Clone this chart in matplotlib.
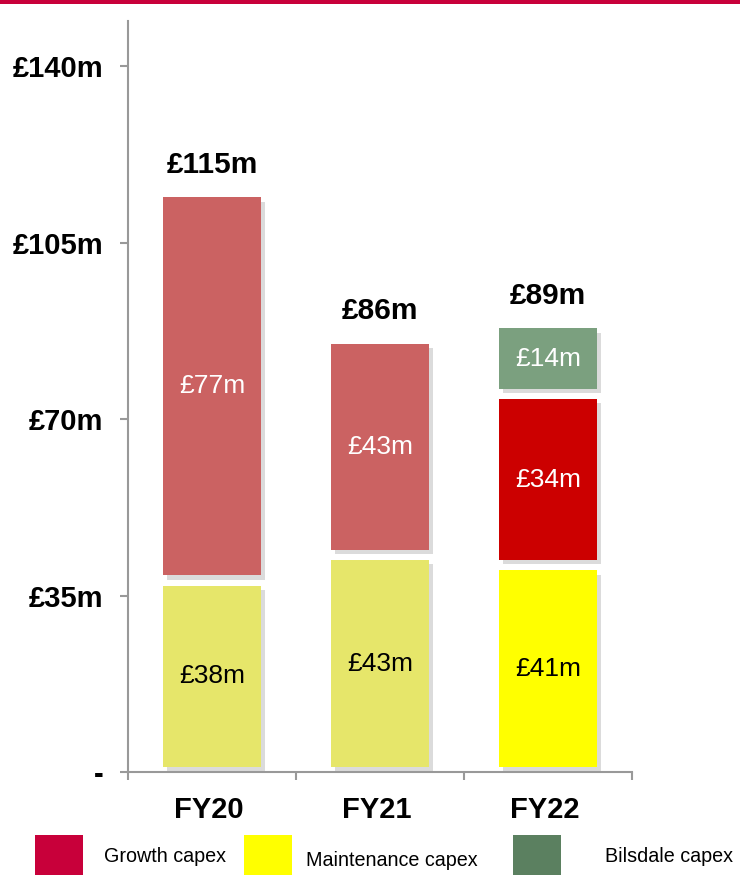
import numpy as np
import matplotlib
matplotlib.use("Agg")
import matplotlib.pyplot as plt
import matplotlib.patheffects as pe
from matplotlib.patches import Rectangle

plt.rcParams["font.family"] = ["Liberation Sans", "DejaVu Sans"]

# -------------------- Data --------------------
years = ["FY20", "FY21", "FY22"]
maintenance = [38, 43, 41]
growth = [77, 43, 34]
bilsdale = [0, 0, 14]
totals = [115, 86, 89]

maint_colors = ["#E6E66A", "#E6E66A", "#FFFF00"]
growth_colors = ["#CB6262", "#CB6262", "#CC0000"]
bils_color = "#7BA07F"

ytick_vals = [0, 35, 70, 105, 140]
ytick_labels = ["-", "£35m", "£70m", "£105m", "£140m"]

# -------------------- Figure --------------------
fig = plt.figure(figsize=(7.4, 8.75), dpi=100)
ax = fig.add_axes([0.173, 0.1177, 0.681, 0.8583])

x = np.arange(len(years))
width = 0.58
gap = 1.0
shadow = [pe.SimplePatchShadow(offset=(3, -3), shadow_rgbFace="#999999", alpha=0.35), pe.Normal()]

def seg(bottom, h, colors):
    bars = ax.bar(x, [max(v - 2 * gap, 0) for v in h],
                  bottom=[b + gap for b in bottom],
                  width=width, color=colors, linewidth=0)
    for b, v in zip(bars, h):
        if v == 0:
            b.set_visible(False)
        b.set_path_effects(shadow)
    return bars

base = [0, 0, 0]
seg(base, maintenance, maint_colors)
base2 = [m for m in maintenance]
seg(base2, growth, growth_colors)
base3 = [m + g for m, g in zip(maintenance, growth)]
seg(base3, bilsdale, [bils_color] * 3)

# segment labels
for i in range(len(years)):
    ax.text(x[i], maintenance[i] / 2, f"£{maintenance[i]}m", ha="center", va="center",
            fontsize=19, color="black")
    ax.text(x[i], maintenance[i] + growth[i] / 2, f"£{growth[i]}m", ha="center", va="center",
            fontsize=19, color="white")
    if bilsdale[i] > 0:
        ax.text(x[i], base3[i] + bilsdale[i] / 2, f"£{bilsdale[i]}m", ha="center", va="center",
                fontsize=19, color="white")
    ax.text(x[i], totals[i] + 5.4, f"£{totals[i]}m", ha="center", va="center",
            fontsize=21.5, fontweight="bold")

# -------------------- Axes styling --------------------
ax.set_xlim(-0.5, 2.5)
ax.set_ylim(0, 149)
for s in ["top", "right"]:
    ax.spines[s].set_visible(False)
for s in ["left", "bottom"]:
    ax.spines[s].set_color("#999999")
    ax.spines[s].set_linewidth(1.5)

ax.set_yticks(ytick_vals)
ax.set_yticklabels(ytick_labels, fontsize=21, fontweight="bold")
ax.tick_params(axis="y", length=6, width=1.5, color="#999999", pad=12)

ax.set_xticks(x - 0.02)
ax.set_xticklabels(years, fontsize=21, fontweight="bold")
ax.set_xticks([-0.5, 0.5, 1.5, 2.5], minor=True)
ax.tick_params(axis="x", which="major", length=0, pad=17)
ax.tick_params(axis="x", which="minor", length=6, width=1.5, color="#999999")

# top red rule
fig.add_artist(Rectangle((0, 1 - 4 / 875), 1, 4 / 875, transform=fig.transFigure,
                         color="#C8003A", linewidth=0))

# -------------------- Legend --------------------
legend_items = [("Growth capex", "#C8003A", 35, 104, 857),
                ("Maintenance capex", "#FFFF00", 244, 306, 860),
                ("Bilsdale capex", "#5B8060", 513, 605, 857)]
for label, col, px, tx, ty in legend_items:
    fig.add_artist(Rectangle((px / 740, 0), 48 / 740, 40 / 875, transform=fig.transFigure,
                             color=col, linewidth=0))
    fig.text(tx / 740, 1 - ty / 875, label, fontsize=14.2, va="center", ha="left")

fig.savefig("out.png", dpi=100)
